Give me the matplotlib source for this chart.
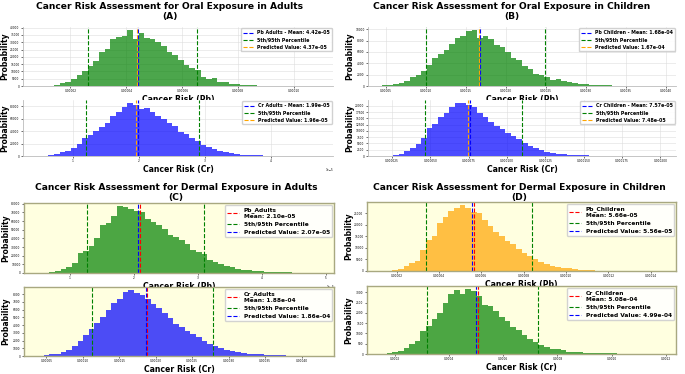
import numpy as np
import matplotlib.pyplot as plt

W, H = 685, 374

# histogram counts (50 bins), sample min/max and (mean, p5, p95, predicted) per panel
a_pb_counts = [0, 50, 300, 1000, 2000, 3000, 4500, 7500, 10000, 14000, 17000, 23000, 25500, 32000, 33500,
               34500, 38500, 32000, 36000, 33000, 32000, 30000, 27500, 23500, 21000, 18000, 14500, 12000,
               11000, 6000, 5000, 5500, 3000, 2500, 1500, 1200, 800, 500, 400, 250, 150, 100, 80, 50, 30,
               20, 10, 5, 5, 3]
a_pb_range = (0.81e-5, 10.88e-5)
a_pb_stats = (4.42e-5, 2.63e-5, 6.53e-5, 4.37e-5)

a_cr_counts = [0, 500, 1100, 2700, 6400, 8000, 12300, 19300, 28900, 33200, 40700, 46000, 53500, 65300,
               71700, 79200, 86000, 82400, 76000, 77000, 70600, 64200, 58900, 53500, 48200, 38500, 35300,
               28900, 23500, 17100, 15000, 10700, 8600, 6400, 4800, 3200, 2400, 1600, 1100, 850, 550, 320,
               210, 160, 100, 50, 30, 20, 10, 5]
a_cr_range = (0.46e-5, 4.73e-5)
a_cr_stats = (1.99e-5, 1.20e-5, 2.91e-5, 1.96e-5)

b_pb_counts = [100, 150, 300, 500, 900, 1500, 2000, 2700, 3700, 5000, 5600, 6300, 7400, 8400, 8800, 9700,
               9900, 8500, 8800, 8300, 7200, 6900, 6000, 5000, 4500, 3500, 3000, 2200, 2000, 1500, 1000,
               1300, 800, 700, 600, 400, 300, 250, 200, 120, 100, 80, 60, 40, 30, 20, 10, 10, 5, 5]
b_pb_range = (0.455e-4, 3.955e-4)
b_pb_stats = (1.68e-4, 1.01e-4, 2.49e-4, 1.67e-4)

b_cr_counts = [30, 100, 300, 800, 2000, 3300, 4700, 7300, 11000, 12600, 15400, 17300, 19600, 21300, 21000,
               20500, 19700, 17000, 15500, 13500, 12000, 10600, 9200, 7800, 6700, 5000, 4000, 3000, 2200,
               1600, 1200, 900, 600, 450, 300, 350, 200, 150, 120, 100, 80, 60, 50, 40, 30, 20, 15, 10, 5, 5]
b_cr_range = (1.86e-5, 20.1e-5)
b_cr_stats = (7.57e-5, 4.65e-5, 11.0e-5, 7.48e-5)

c_pb_counts = [200, 500, 800, 2500, 5000, 7000, 11000, 23000, 25000, 31000, 41000, 55000, 58000, 66000,
               77000, 76000, 74000, 72000, 70000, 62000, 59000, 55000, 51000, 44000, 42000, 38000, 33000,
               26000, 24000, 22000, 15000, 13000, 10000, 8000, 6500, 5000, 4000, 3000, 2500, 2000, 1500,
               1200, 800, 600, 700, 400, 200, 150, 100, 50]
c_pb_range = (0.506e-5, 4.91e-5)
c_pb_stats = (2.10e-5, 1.27e-5, 3.10e-5, 2.07e-5)

c_cr_counts = [30, 100, 200, 300, 500, 800, 1300, 2000, 2700, 3500, 4300, 5100, 6000, 6800, 7400, 8300,
               8500, 8200, 7900, 7400, 6700, 6200, 5500, 4900, 4200, 3700, 3200, 2800, 2400, 1900, 1600,
               1300, 1000, 800, 600, 500, 400, 300, 250, 200, 150, 120, 150, 80, 60, 40, 30, 20, 10, 5]
c_cr_range = (0.387e-4, 4.25e-4)
c_cr_stats = (1.88e-4, 1.13e-4, 2.78e-4, 1.86e-4)

d_pb_counts = [50, 200, 500, 1000, 2000, 3500, 4500, 9000, 13500, 15000, 21000, 23500, 26000, 27500, 28500,
               27500, 25500, 25000, 22000, 19500, 17000, 15000, 13000, 11500, 9500, 8000, 6500, 5000, 4000,
               3000, 2300, 1700, 1300, 1100, 700, 500, 400, 250, 200, 150, 120, 90, 70, 50, 40, 30, 20, 10, 5, 5]
d_pb_range = (1.27e-5, 14.53e-5)
d_pb_stats = (5.66e-5, 3.40e-5, 8.38e-5, 5.56e-5)

d_cr_counts = [10, 30, 80, 150, 300, 500, 650, 1100, 1350, 1700, 2000, 2500, 2900, 3100, 2900, 3150, 3050,
               2800, 2400, 2350, 2100, 1800, 1600, 1300, 1150, 900, 750, 600, 450, 320, 250, 230, 180, 120,
               100, 80, 70, 60, 50, 40, 30, 25, 20, 15, 10, 8, 5, 3, 2, 1]
d_cr_range = (1.49e-4, 11.86e-4)
d_cr_stats = (5.08e-4, 3.19e-4, 7.30e-4, 4.99e-4)


def box(x0, x1, y0, y1):
    # pixel box -> figure fraction rect
    return [x0 / W, 1 - y1 / H, (x1 - x0) / W, (y1 - y0) / H]


def hist(ax, counts, rng, color):
    edges = np.linspace(rng[0], rng[1], len(counts) + 1)
    centers = (edges[:-1] + edges[1:]) / 2
    ax.hist(centers, bins=edges, weights=counts, color=color, alpha=0.7)


def oral(ax, counts, rng, stats, color, name, xlabel):
    hist(ax, counts, rng, color)
    mean, p5, p95, pred = stats
    ax.axvline(mean, color='blue', ls='--', lw=0.8, label=f'{name} - Mean: {mean:.2e}')
    ax.axvline(p5, color='green', ls='--', lw=0.8, label='5th/95th Percentile')
    ax.axvline(p95, color='green', ls='--', lw=0.8)
    ax.axvline(pred, color='orange', ls='--', lw=0.8, label=f'Predicted Value: {pred:.2e}')
    ax.grid(True, color='#dddddd', lw=0.4)
    ax.set_axisbelow(True)
    for s in ['top', 'right']:
        ax.spines[s].set_visible(False)
    for s in ['left', 'bottom']:
        ax.spines[s].set_color('#bbbbbb')
        ax.spines[s].set_linewidth(0.6)
    ax.legend(loc='upper right', prop={'size': 3.4, 'weight': 'bold'}, borderaxespad=0.3,
              handlelength=2.2, labelspacing=0.45, framealpha=0.9, edgecolor='#cccccc')
    finish(ax, xlabel)


def dermal(ax, counts, rng, stats, color, name, xlabel):
    ax.set_facecolor('lightyellow')
    hist(ax, counts, rng, color)
    mean, p5, p95, pred = stats
    ax.axvline(mean, color='red', ls='--', lw=0.8, label=f'{name}\nMean: {mean:.2e}')
    ax.axvline(p5, color='green', ls='--', lw=0.8, label='5th/95th Percentile')
    ax.axvline(p95, color='green', ls='--', lw=0.8)
    ax.axvline(pred, color='blue', ls='--', lw=0.8, label=f'Predicted Value: {pred:.2e}')
    for s in ax.spines.values():
        s.set_color('#a8a880')
        s.set_linewidth(1.0)
    ax.legend(loc='upper right', prop={'size': 4.2, 'weight': 'bold'}, borderaxespad=0.3,
              handlelength=2.0, labelspacing=0.5, framealpha=0.85)
    finish(ax, xlabel)


def finish(ax, xlabel):
    ax.set_xlabel(xlabel, fontsize=5.6, fontweight='bold', labelpad=0.8)
    ax.set_ylabel('Probability', fontsize=5.5, fontweight='bold')
    # y label sits in the gutter, just clear of the tick labels
    ax.yaxis.set_label_coords(-13.5 / (ax.get_position().width * W), 0.5)
    ax.tick_params(labelsize=2.1, length=1.5, width=0.4, pad=1)
    ax.xaxis.get_offset_text().set_fontsize(2.1)


fig = plt.figure(figsize=(W / 100, H / 100), dpi=100)

ax = fig.add_axes(box(23, 333, 27, 86))
oral(ax, a_pb_counts, a_pb_range, a_pb_stats, 'green', 'Pb Adults', 'Cancer Risk (Pb)')
ax = fig.add_axes(box(23, 333, 100, 156))
oral(ax, a_cr_counts, a_cr_range, a_cr_stats, 'blue', 'Cr Adults', 'Cancer Risk (Cr)')
ax = fig.add_axes(box(368, 676, 27, 86))
oral(ax, b_pb_counts, b_pb_range, b_pb_stats, 'green', 'Pb Children', 'Cancer Risk (Pb)')
ax = fig.add_axes(box(368, 676, 100, 156))
oral(ax, b_cr_counts, b_cr_range, b_cr_stats, 'blue', 'Cr Children', 'Cancer Risk (Cr)')

ax = fig.add_axes(box(24, 334, 203, 273))
dermal(ax, c_pb_counts, c_pb_range, c_pb_stats, 'green', 'Pb_Adults', 'Cancer Risk (Pb)')
ax = fig.add_axes(box(24, 334, 287, 356))
dermal(ax, c_cr_counts, c_cr_range, c_cr_stats, 'blue', 'Cr_Adults', 'Cancer Risk (Cr)')
ax = fig.add_axes(box(367, 676, 202, 271))
dermal(ax, d_pb_counts, d_pb_range, d_pb_stats, 'orange', 'Pb_Children', 'Cancer Risk (Pb)')
ax = fig.add_axes(box(367, 676, 286, 354))
dermal(ax, d_cr_counts, d_cr_range, d_cr_stats, 'green', 'Cr_Children', 'Cancer Risk (Cr)')

title_kw = dict(ha='center', va='top', fontsize=6.6, fontweight='bold', linespacing=1.15)
fig.text(170 / W, 1 - 2 / H, 'Cancer Risk Assessment for Oral Exposure in Adults\n(A)', **title_kw)
fig.text(512 / W, 1 - 2 / H, 'Cancer Risk Assessment for Oral Exposure in Children\n(B)', **title_kw)
fig.text(176 / W, 1 - 183 / H, 'Cancer Risk Assessment for Dermal Exposure in Adults\n(C)', **title_kw)
fig.text(519 / W, 1 - 183 / H, 'Cancer Risk Assessment for Dermal Exposure in Children\n(D)', **title_kw)

fig.savefig('out.png', dpi=100)
